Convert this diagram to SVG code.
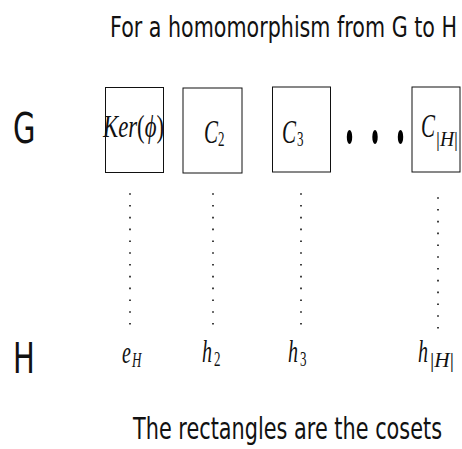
<svg xmlns="http://www.w3.org/2000/svg" width="462" height="449" viewBox="0 0 462 449">
<style>
.sans{font-family:"DejaVu Sans","Liberation Sans",sans-serif;fill:#111}
.m{font-family:"Liberation Serif","DejaVu Serif",serif;fill:#111}
.it{font-style:italic}
.box{fill:none;stroke:#111;stroke-width:1}
.dots{stroke:#111;stroke-width:1.6;stroke-dasharray:1.6 10.2}
</style>
<rect width="462" height="449" fill="#fff"/>
<text class="sans" font-size="22.5" textLength="347" lengthAdjust="spacingAndGlyphs" transform="translate(110,37) scale(1,1.25)">For a homomorphism from G to H</text>
<text class="sans" font-size="29" transform="translate(13,143) scale(1,1.45)">G</text>
<text class="sans" font-size="29" transform="translate(13,373) scale(1,1.45)">H</text>
<g id="connectors">
<line class="dots" x1="130" y1="193.2" x2="130" y2="326"/>
<line class="dots" x1="213" y1="193.2" x2="213" y2="326"/>
<line class="dots" x1="301" y1="193.2" x2="301" y2="326"/>
<line class="dots" x1="438" y1="197.2" x2="438" y2="330"/>
</g>
<g id="ker">
<rect class="box" x="105.5" y="87.5" width="58" height="85"/>
<text class="m" font-size="21" textLength="61" lengthAdjust="spacingAndGlyphs" transform="translate(103,137) scale(1,1.55)"><tspan class="it">Ker</tspan>(<tspan class="it">ϕ</tspan>)</text>
</g>
<g id="c2">
<rect class="box" x="183" y="88" width="59" height="85"/>
<text class="m it" font-size="21" transform="translate(204,143) scale(1,1.6)">C</text>
<text class="m" font-size="13" transform="translate(218,146) scale(1,1.6)">2</text>
</g>
<g id="c3">
<rect class="box" x="272.5" y="87" width="58" height="85"/>
<text class="m it" font-size="21" transform="translate(282,143) scale(1,1.6)">C</text>
<text class="m" font-size="13" transform="translate(297,146) scale(1,1.6)">3</text>
</g>
<g id="ellipsis">
<ellipse cx="349.5" cy="137" rx="2.7" ry="7" fill="#000"/>
<ellipse cx="375" cy="137" rx="2.7" ry="7" fill="#000"/>
<ellipse cx="400.5" cy="137" rx="2.7" ry="7" fill="#000"/>
</g>
<g id="cH">
<rect class="box" x="412" y="87" width="48" height="85"/>
<text class="m it" font-size="21" transform="translate(421,137) scale(1,1.6)">C</text>
<text class="m" font-size="13" textLength="22" lengthAdjust="spacingAndGlyphs" transform="translate(436,146) scale(1,1.6)">|<tspan class="it">H</tspan>|</text>
</g>
<g id="eH">
<text class="m it" font-size="20" transform="translate(122,363) scale(1,1.6)">e</text>
<text class="m it" font-size="13" transform="translate(132,367) scale(1,1.6)">H</text>
</g>
<g id="h2">
<text class="m it" font-size="20" transform="translate(202,362) scale(1,1.6)">h</text>
<text class="m" font-size="13" transform="translate(214,366) scale(1,1.6)">2</text>
</g>
<g id="h3">
<text class="m it" font-size="20" transform="translate(288,362) scale(1,1.6)">h</text>
<text class="m" font-size="13" transform="translate(300,366) scale(1,1.6)">3</text>
</g>
<g id="hH">
<text class="m it" font-size="20" transform="translate(418,362) scale(1,1.6)">h</text>
<text class="m" font-size="13" textLength="24" lengthAdjust="spacingAndGlyphs" transform="translate(430,367) scale(1,1.6)">|<tspan class="it">H</tspan>|</text>
</g>
<text class="sans" font-size="20.8" textLength="309" lengthAdjust="spacingAndGlyphs" transform="translate(133,439) scale(1,1.45)">The rectangles are the cosets</text>
</svg>
